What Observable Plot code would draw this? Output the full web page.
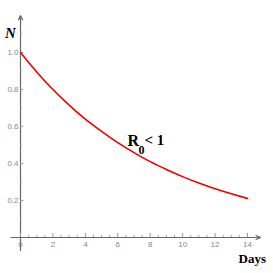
<!DOCTYPE html>
<html>
<head>
<meta charset="utf-8">
<script src="https://cdn.jsdelivr.net/npm/d3@7"></script>
<script src="https://cdn.jsdelivr.net/npm/@observablehq/plot@0.6"></script>
<style>
  html, body { margin: 0; padding: 0; background: #fff; }
</style>
</head>
<body>
<div id="chart"></div>
<script>
// Data
const days = [0, 1, 2, 3, 4, 5, 6, 7, 8, 9, 10, 11, 12, 13, 14];
const nValues = [1.0, 0.895, 0.80, 0.716, 0.64, 0.574, 0.513, 0.459, 0.41, 0.368, 0.329, 0.294, 0.263, 0.236, 0.211];
const xTicks = [0, 2, 4, 6, 8, 10, 12, 14];
const xMinorTicks = [0.5, 1, 1.5, 2.5, 3, 3.5, 4.5, 5, 5.5, 6.5, 7, 7.5, 8.5, 9, 9.5, 10.5, 11, 11.5, 12.5, 13, 13.5];
const yTicks = [0.2, 0.4, 0.6, 0.8, 1.0];
const yMinorTicks = [0.1, 0.3, 0.5, 0.7, 0.9, 1.1];
const xAxisExtent = [-0.6, 14.8];
const yAxisExtent = [-0.07, 1.2];

const data = days.map((d, i) => ({day: d, n: nValues[i]}));
const axisColor = "#666";
const serif = "'Liberation Serif', 'DejaVu Serif', serif";

const plot = Plot.plot({
  width: 273,
  height: 273,
  marginLeft: 20,
  marginRight: 26,
  marginTop: 52,
  marginBottom: 36,
  x: {domain: [0, 14]},
  y: {domain: [0, 1]},
  style: {background: "#fff", overflow: "visible"},
  marks: [
    Plot.arrow([{x1: xAxisExtent[0], x2: xAxisExtent[1]}], {
      x1: "x1", x2: "x2", y1: 0, y2: 0, stroke: axisColor, strokeWidth: 1.2, headLength: 6, headAngle: 50
    }),
    Plot.arrow([{y1: yAxisExtent[0], y2: yAxisExtent[1]}], {
      x1: 0, x2: 0, y1: "y1", y2: "y2", stroke: axisColor, strokeWidth: 1.2, headLength: 6, headAngle: 50
    }),
    Plot.ruleX(xTicks, {x: d => d, y1: 0, y2: 0.022, stroke: "#999", strokeWidth: 1}),
    Plot.ruleX(xMinorTicks, {x: d => d, y1: 0, y2: 0.012, stroke: "#aaa", strokeWidth: 1}),
    Plot.ruleY(yTicks, {y: d => d, x1: 0, x2: 0.2, stroke: "#999", strokeWidth: 1}),
    Plot.ruleY(yMinorTicks, {y: d => d, x1: 0, x2: 0.12, stroke: "#aaa", strokeWidth: 1}),
    Plot.axisX({ticks: xTicks, tickSize: 0, tickPadding: 4, label: null, fontSize: 8, color: "#888",
      fontFamily: "'Liberation Sans', sans-serif"}),
    Plot.axisY({ticks: yTicks, tickSize: 0, tickPadding: 2, label: null, fontSize: 8, color: "#888",
      tickFormat: d3.format(".1f"), fontFamily: "'Liberation Sans', sans-serif"}),
    Plot.line(data, {x: "day", y: "n", curve: "natural", stroke: "#f00000", strokeWidth: 1.6}),
    Plot.text(["N"], {x: 0, y: 1.2, dx: -10, dy: 18, text: d => d, fontSize: 15, fontWeight: "bold",
      fontStyle: "italic", fontFamily: serif, fill: "#000"}),
    Plot.text(["Days"], {x: 14, y: 0, dx: -9, dy: 21, text: d => d, textAnchor: "start", fontSize: 13,
      fontWeight: "bold", fontFamily: serif, fill: "#000"}),
    Plot.text(["R"], {x: 6.6, y: 0.52, text: d => d, textAnchor: "start", fontSize: 16,
      fontWeight: "bold", fontFamily: serif, fill: "#000"}),
    Plot.text(["0"], {x: 6.6, y: 0.52, dx: 11, dy: 9, text: d => d, textAnchor: "start", fontSize: 12,
      fontWeight: "bold", fontFamily: serif, fill: "#000"}),
    Plot.text(["< 1"], {x: 6.6, y: 0.52, dx: 17, dy: -1, text: d => d, textAnchor: "start", fontSize: 15,
      fontWeight: "bold", fontFamily: serif, fill: "#000"})
  ]
});
document.getElementById("chart").appendChild(plot);
</script>
</body>
</html>
